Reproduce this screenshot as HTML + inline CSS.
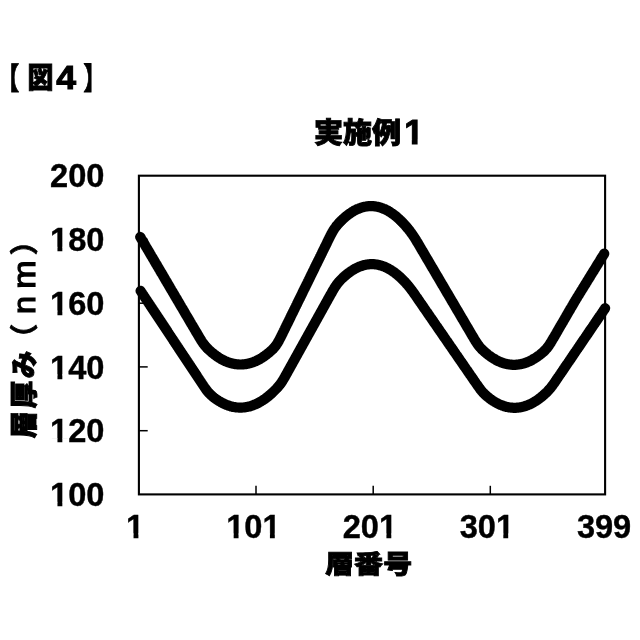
<!DOCTYPE html>
<html lang="ja"><head><meta charset="utf-8"><title>図4</title>
<style>
html,body{margin:0;background:#fff}
.num{font-family:"Liberation Sans",sans-serif;font-weight:700;fill:#000;stroke:#000;stroke-width:0.4px;}
.jp{font-family:"Liberation Sans","Noto Sans CJK JP",sans-serif;font-weight:900;fill:#000;stroke:#000;stroke-width:0.9px;}
.jpl{font-family:"Liberation Sans","Noto Sans CJK JP",sans-serif;font-weight:700;fill:#000;stroke:#000;stroke-width:0.8px;}
.bd{font-family:"Liberation Sans",sans-serif;font-weight:700;fill:#000;stroke:#000;stroke-width:1.0px;}
.lat{font-family:"Liberation Sans",sans-serif;font-weight:400;fill:#000;stroke:#000;stroke-width:1.3px;}
body{width:640px;height:640px;overflow:hidden;}
svg{display:block;}
.ax{stroke:#000;fill:none;}
.cv{fill:none;stroke:#000;stroke-width:10.2;stroke-linecap:round;stroke-linejoin:round;}
</style></head><body>
<svg width="640" height="640" viewBox="0 0 640 640">
<rect width="640" height="640" fill="#fff"/>
<rect class="ax" x="138.9" y="175.7" width="466.2" height="318.7" stroke-width="2.1"/>
<path class="cv" d="M140.2,236.9 L140.8,237.8 L141.2,238.6 L141.8,239.5 L142.2,240.3 L142.8,241.2 L143.2,242.0 L143.8,242.9 L144.2,243.7 L144.8,244.6 L145.2,245.4 L145.8,246.3 L146.2,247.1 L146.8,248.0 L147.2,248.8 L147.8,249.7 L148.2,250.5 L148.8,251.4 L149.2,252.2 L149.8,253.1 L150.2,253.9 L150.8,254.8 L151.2,255.6 L151.8,256.5 L152.2,257.3 L152.8,258.2 L153.2,259.0 L153.8,259.8 L154.2,260.7 L154.8,261.6 L155.2,262.4 L155.8,263.3 L156.2,264.1 L156.8,264.9 L157.2,265.8 L157.8,266.7 L158.2,267.5 L158.8,268.4 L159.2,269.2 L159.8,270.0 L160.2,270.9 L160.8,271.8 L161.2,272.6 L161.8,273.4 L162.2,274.3 L162.8,275.1 L163.2,276.0 L163.8,276.9 L164.2,277.7 L164.8,278.6 L165.2,279.4 L165.8,280.3 L166.2,281.1 L166.8,281.9 L167.2,282.8 L167.8,283.7 L168.2,284.5 L168.8,285.4 L169.2,286.2 L169.8,287.1 L170.2,287.9 L170.8,288.8 L171.2,289.6 L171.8,290.5 L172.2,291.3 L172.8,292.2 L173.2,293.0 L173.8,293.9 L174.2,294.7 L174.8,295.6 L175.2,296.4 L175.8,297.2 L176.2,298.1 L176.8,298.9 L177.2,299.8 L177.8,300.7 L178.2,301.5 L178.8,302.3 L179.2,303.2 L179.8,304.1 L180.2,304.9 L180.8,305.8 L181.2,306.6 L181.8,307.5 L182.2,308.3 L182.8,309.1 L183.2,310.0 L183.8,310.9 L184.2,311.7 L184.8,312.6 L185.2,313.4 L185.8,314.3 L186.2,315.1 L186.8,316.0 L187.2,316.8 L187.8,317.6 L188.2,318.5 L188.8,319.4 L189.2,320.2 L189.8,321.1 L190.2,321.9 L190.8,322.8 L191.2,323.6 L191.8,324.5 L192.2,325.3 L192.8,326.2 L193.2,327.0 L193.8,327.8 L194.2,328.7 L194.8,329.5 L195.2,330.4 L195.8,331.2 L196.2,332.1 L196.8,332.9 L197.2,333.8 L197.8,334.6 L198.2,335.5 L198.8,336.3 L199.2,337.2 L199.8,338.0 L200.2,338.8 L200.8,339.6 L201.2,340.4 L201.8,341.2 L202.2,342.0 L202.8,342.7 L203.2,343.4 L203.8,344.1 L204.2,344.8 L204.8,345.4 L205.2,346.0 L205.8,346.6 L206.2,347.2 L206.8,347.7 L207.2,348.2 L207.8,348.7 L208.2,349.2 L208.8,349.7 L209.2,350.1 L209.8,350.6 L210.2,351.1 L210.8,351.5 L211.2,351.9 L211.8,352.4 L212.2,352.8 L212.8,353.2 L213.2,353.6 L213.8,354.0 L214.2,354.4 L214.8,354.8 L215.2,355.1 L215.8,355.5 L216.2,355.9 L216.8,356.2 L217.2,356.6 L217.8,356.9 L218.2,357.2 L218.8,357.6 L219.2,357.9 L219.8,358.2 L220.2,358.5 L220.8,358.8 L221.2,359.1 L221.8,359.3 L222.2,359.6 L222.8,359.9 L223.2,360.1 L223.8,360.4 L224.2,360.6 L224.8,360.9 L225.2,361.1 L225.8,361.3 L226.2,361.5 L226.8,361.7 L227.2,361.9 L227.8,362.1 L228.2,362.3 L228.8,362.5 L229.2,362.6 L229.8,362.8 L230.2,363.0 L230.8,363.1 L231.2,363.2 L231.8,363.4 L232.2,363.5 L232.8,363.6 L233.2,363.7 L233.8,363.8 L234.2,363.9 L234.8,364.0 L235.2,364.1 L235.8,364.2 L236.2,364.2 L236.8,364.3 L237.2,364.4 L237.8,364.4 L238.2,364.4 L238.8,364.5 L239.2,364.5 L239.8,364.5 L240.2,364.5 L240.8,364.5 L241.2,364.5 L241.8,364.5 L242.2,364.5 L242.8,364.4 L243.2,364.4 L243.8,364.4 L244.2,364.3 L244.8,364.2 L245.2,364.2 L245.8,364.1 L246.2,364.0 L246.8,363.9 L247.2,363.8 L247.8,363.7 L248.2,363.6 L248.8,363.5 L249.2,363.4 L249.8,363.2 L250.2,363.1 L250.8,363.0 L251.2,362.8 L251.8,362.6 L252.2,362.5 L252.8,362.3 L253.2,362.1 L253.8,361.9 L254.2,361.7 L254.8,361.5 L255.2,361.3 L255.8,361.1 L256.2,360.9 L256.8,360.6 L257.2,360.4 L257.8,360.1 L258.2,359.9 L258.8,359.6 L259.2,359.3 L259.8,359.1 L260.2,358.8 L260.8,358.5 L261.2,358.2 L261.8,357.9 L262.2,357.6 L262.8,357.2 L263.2,356.9 L263.8,356.6 L264.2,356.2 L264.8,355.9 L265.2,355.5 L265.8,355.1 L266.2,354.8 L266.8,354.4 L267.2,354.0 L267.8,353.6 L268.2,353.2 L268.8,352.8 L269.2,352.4 L269.8,351.9 L270.2,351.5 L270.8,351.1 L271.2,350.6 L271.8,350.1 L272.2,349.7 L272.8,349.2 L273.2,348.7 L273.8,348.1 L274.2,347.6 L274.8,347.0 L275.2,346.4 L275.8,345.7 L276.2,345.0 L276.8,344.3 L277.2,343.5 L277.8,342.7 L278.2,341.8 L278.8,340.9 L279.2,340.0 L279.8,339.0 L280.2,338.1 L280.8,337.1 L281.2,336.1 L281.8,335.1 L282.2,334.1 L282.8,333.1 L283.2,332.0 L283.8,331.0 L284.2,330.0 L284.8,329.0 L285.2,328.0 L285.8,326.9 L286.2,325.9 L286.8,324.9 L287.2,323.9 L287.8,322.9 L288.2,321.8 L288.8,320.8 L289.2,319.8 L289.8,318.8 L290.2,317.8 L290.8,316.7 L291.2,315.7 L291.8,314.7 L292.2,313.7 L292.8,312.7 L293.2,311.6 L293.8,310.6 L294.2,309.6 L294.8,308.6 L295.2,307.5 L295.8,306.5 L296.2,305.5 L296.8,304.5 L297.2,303.5 L297.8,302.4 L298.2,301.4 L298.8,300.4 L299.2,299.4 L299.8,298.4 L300.2,297.3 L300.8,296.3 L301.2,295.3 L301.8,294.3 L302.2,293.3 L302.8,292.2 L303.2,291.2 L303.8,290.2 L304.2,289.2 L304.8,288.2 L305.2,287.1 L305.8,286.1 L306.2,285.1 L306.8,284.1 L307.2,283.1 L307.8,282.0 L308.2,281.0 L308.8,280.0 L309.2,279.0 L309.8,278.0 L310.2,276.9 L310.8,275.9 L311.2,274.9 L311.8,273.9 L312.2,272.9 L312.8,271.8 L313.2,270.8 L313.8,269.8 L314.2,268.8 L314.8,267.7 L315.2,266.7 L315.8,265.7 L316.2,264.7 L316.8,263.7 L317.2,262.6 L317.8,261.6 L318.2,260.6 L318.8,259.6 L319.2,258.6 L319.8,257.5 L320.2,256.5 L320.8,255.5 L321.2,254.5 L321.8,253.5 L322.2,252.4 L322.8,251.4 L323.2,250.4 L323.8,249.4 L324.2,248.4 L324.8,247.3 L325.2,246.3 L325.8,245.3 L326.2,244.3 L326.8,243.3 L327.2,242.2 L327.8,241.2 L328.2,240.2 L328.8,239.2 L329.2,238.2 L329.8,237.2 L330.2,236.2 L330.8,235.2 L331.2,234.2 L331.8,233.3 L332.2,232.4 L332.8,231.5 L333.2,230.6 L333.8,229.8 L334.2,229.0 L334.8,228.3 L335.2,227.5 L335.8,226.9 L336.2,226.2 L336.8,225.6 L337.2,225.0 L337.8,224.4 L338.2,223.8 L338.8,223.3 L339.2,222.7 L339.8,222.2 L340.2,221.7 L340.8,221.2 L341.2,220.7 L341.8,220.2 L342.2,219.7 L342.8,219.3 L343.2,218.8 L343.8,218.4 L344.2,217.9 L344.8,217.5 L345.2,217.0 L345.8,216.6 L346.2,216.2 L346.8,215.8 L347.2,215.4 L347.8,215.0 L348.2,214.6 L348.8,214.3 L349.2,213.9 L349.8,213.6 L350.2,213.2 L350.8,212.9 L351.2,212.5 L351.8,212.2 L352.2,211.9 L352.8,211.6 L353.2,211.3 L353.8,211.0 L354.2,210.7 L354.8,210.5 L355.2,210.2 L355.8,209.9 L356.2,209.7 L356.8,209.5 L357.2,209.2 L357.8,209.0 L358.2,208.8 L358.8,208.6 L359.2,208.4 L359.8,208.2 L360.2,208.0 L360.8,207.8 L361.2,207.7 L361.8,207.5 L362.2,207.4 L362.8,207.2 L363.2,207.1 L363.8,207.0 L364.2,206.9 L364.8,206.7 L365.2,206.6 L365.8,206.6 L366.2,206.5 L366.8,206.4 L367.2,206.3 L367.8,206.3 L368.2,206.2 L368.8,206.2 L369.2,206.2 L369.8,206.1 L370.2,206.1 L370.8,206.1 L371.2,206.1 L371.8,206.1 L372.2,206.1 L372.8,206.2 L373.2,206.2 L373.8,206.2 L374.2,206.3 L374.8,206.3 L375.2,206.4 L375.8,206.5 L376.2,206.6 L376.8,206.6 L377.2,206.7 L377.8,206.9 L378.2,207.0 L378.8,207.1 L379.2,207.2 L379.8,207.4 L380.2,207.5 L380.8,207.7 L381.2,207.8 L381.8,208.0 L382.2,208.2 L382.8,208.4 L383.2,208.6 L383.8,208.8 L384.2,209.0 L384.8,209.2 L385.2,209.5 L385.8,209.7 L386.2,209.9 L386.8,210.2 L387.2,210.5 L387.8,210.7 L388.2,211.0 L388.8,211.3 L389.2,211.6 L389.8,211.9 L390.2,212.2 L390.8,212.5 L391.2,212.9 L391.8,213.2 L392.2,213.6 L392.8,213.9 L393.2,214.3 L393.8,214.6 L394.2,215.0 L394.8,215.4 L395.2,215.8 L395.8,216.2 L396.2,216.6 L396.8,217.0 L397.2,217.5 L397.8,217.9 L398.2,218.4 L398.8,218.8 L399.2,219.3 L399.8,219.7 L400.2,220.2 L400.8,220.7 L401.2,221.2 L401.8,221.7 L402.2,222.2 L402.8,222.7 L403.2,223.3 L403.8,223.8 L404.2,224.3 L404.8,224.9 L405.2,225.5 L405.8,226.0 L406.2,226.6 L406.8,227.2 L407.2,227.8 L407.8,228.4 L408.2,229.0 L408.8,229.6 L409.2,230.3 L409.8,230.9 L410.2,231.5 L410.8,232.2 L411.2,232.9 L411.8,233.6 L412.2,234.3 L412.8,235.0 L413.2,235.7 L413.8,236.5 L414.2,237.2 L414.8,238.0 L415.2,238.8 L415.8,239.6 L416.2,240.4 L416.8,241.3 L417.2,242.1 L417.8,242.9 L418.2,243.8 L418.8,244.6 L419.2,245.5 L419.8,246.3 L420.2,247.2 L420.8,248.0 L421.2,248.9 L421.8,249.7 L422.2,250.6 L422.8,251.4 L423.2,252.3 L423.8,253.1 L424.2,254.0 L424.8,254.8 L425.2,255.7 L425.8,256.5 L426.2,257.4 L426.8,258.2 L427.2,259.1 L427.8,259.9 L428.2,260.8 L428.8,261.6 L429.2,262.5 L429.8,263.3 L430.2,264.2 L430.8,265.0 L431.2,265.9 L431.8,266.7 L432.2,267.6 L432.8,268.4 L433.2,269.3 L433.8,270.1 L434.2,271.0 L434.8,271.8 L435.2,272.7 L435.8,273.5 L436.2,274.4 L436.8,275.2 L437.2,276.1 L437.8,276.9 L438.2,277.8 L438.8,278.6 L439.2,279.5 L439.8,280.3 L440.2,281.2 L440.8,282.0 L441.2,282.9 L441.8,283.7 L442.2,284.6 L442.8,285.4 L443.2,286.3 L443.8,287.1 L444.2,288.0 L444.8,288.8 L445.2,289.7 L445.8,290.5 L446.2,291.4 L446.8,292.2 L447.2,293.1 L447.8,293.9 L448.2,294.8 L448.8,295.6 L449.2,296.5 L449.8,297.3 L450.2,298.2 L450.8,299.0 L451.2,299.9 L451.8,300.7 L452.2,301.6 L452.8,302.4 L453.2,303.3 L453.8,304.1 L454.2,305.0 L454.8,305.8 L455.2,306.7 L455.8,307.5 L456.2,308.4 L456.8,309.2 L457.2,310.1 L457.8,310.9 L458.2,311.8 L458.8,312.6 L459.2,313.5 L459.8,314.3 L460.2,315.2 L460.8,316.0 L461.2,316.9 L461.8,317.7 L462.2,318.6 L462.8,319.4 L463.2,320.3 L463.8,321.1 L464.2,322.0 L464.8,322.8 L465.2,323.7 L465.8,324.5 L466.2,325.4 L466.8,326.2 L467.2,327.1 L467.8,327.9 L468.2,328.8 L468.8,329.6 L469.2,330.5 L469.8,331.3 L470.2,332.2 L470.8,333.0 L471.2,333.9 L471.8,334.7 L472.2,335.6 L472.8,336.4 L473.2,337.2 L473.8,338.1 L474.2,338.9 L474.8,339.7 L475.2,340.6 L475.8,341.4 L476.2,342.2 L476.8,342.9 L477.2,343.7 L477.8,344.4 L478.2,345.1 L478.8,345.7 L479.2,346.4 L479.8,347.0 L480.2,347.5 L480.8,348.1 L481.2,348.6 L481.8,349.2 L482.2,349.7 L482.8,350.1 L483.2,350.6 L483.8,351.1 L484.2,351.5 L484.8,352.0 L485.2,352.4 L485.8,352.8 L486.2,353.3 L486.8,353.7 L487.2,354.1 L487.8,354.5 L488.2,354.9 L488.8,355.2 L489.2,355.6 L489.8,356.0 L490.2,356.3 L490.8,356.7 L491.2,357.0 L491.8,357.4 L492.2,357.7 L492.8,358.0 L493.2,358.3 L493.8,358.7 L494.2,359.0 L494.8,359.2 L495.2,359.5 L495.8,359.8 L496.2,360.1 L496.8,360.3 L497.2,360.6 L497.8,360.8 L498.2,361.1 L498.8,361.3 L499.2,361.5 L499.8,361.8 L500.2,362.0 L500.8,362.2 L501.2,362.4 L501.8,362.6 L502.2,362.7 L502.8,362.9 L503.2,363.1 L503.8,363.2 L504.2,363.4 L504.8,363.5 L505.2,363.7 L505.8,363.8 L506.2,363.9 L506.8,364.0 L507.2,364.1 L507.8,364.2 L508.2,364.3 L508.8,364.4 L509.2,364.5 L509.8,364.5 L510.2,364.6 L510.8,364.6 L511.2,364.7 L511.8,364.7 L512.2,364.8 L512.8,364.8 L513.2,364.8 L513.8,364.8 L514.2,364.8 L514.8,364.8 L515.2,364.8 L515.8,364.8 L516.2,364.7 L516.8,364.7 L517.2,364.6 L517.8,364.6 L518.2,364.5 L518.8,364.5 L519.2,364.4 L519.8,364.3 L520.2,364.2 L520.8,364.1 L521.2,364.0 L521.8,363.9 L522.2,363.8 L522.8,363.7 L523.2,363.5 L523.8,363.4 L524.2,363.2 L524.8,363.1 L525.2,362.9 L525.8,362.7 L526.2,362.6 L526.8,362.4 L527.2,362.2 L527.8,362.0 L528.2,361.8 L528.8,361.5 L529.2,361.3 L529.8,361.1 L530.2,360.8 L530.8,360.6 L531.2,360.3 L531.8,360.1 L532.2,359.8 L532.8,359.5 L533.2,359.2 L533.8,359.0 L534.2,358.7 L534.8,358.3 L535.2,358.0 L535.8,357.7 L536.2,357.4 L536.8,357.0 L537.2,356.7 L537.8,356.3 L538.2,356.0 L538.8,355.6 L539.2,355.2 L539.8,354.9 L540.2,354.5 L540.8,354.1 L541.2,353.7 L541.8,353.3 L542.2,352.8 L542.8,352.4 L543.2,352.0 L543.8,351.5 L544.2,351.0 L544.8,350.5 L545.2,350.0 L545.8,349.5 L546.2,348.9 L546.8,348.4 L547.2,347.7 L547.8,347.1 L548.2,346.4 L548.8,345.7 L549.2,345.0 L549.8,344.2 L550.2,343.4 L550.8,342.6 L551.2,341.8 L551.8,341.0 L552.2,340.1 L552.8,339.3 L553.2,338.4 L553.8,337.6 L554.2,336.7 L554.8,335.9 L555.2,335.0 L555.8,334.1 L556.2,333.3 L556.8,332.4 L557.2,331.6 L557.8,330.7 L558.2,329.8 L558.8,329.0 L559.2,328.1 L559.8,327.3 L560.2,326.4 L560.8,325.5 L561.2,324.7 L561.8,323.8 L562.2,323.0 L562.8,322.1 L563.2,321.2 L563.8,320.4 L564.2,319.5 L564.8,318.7 L565.2,317.8 L565.8,316.9 L566.2,316.1 L566.8,315.2 L567.2,314.4 L567.8,313.5 L568.2,312.6 L568.8,311.8 L569.2,310.9 L569.8,310.1 L570.2,309.2 L570.8,308.3 L571.2,307.5 L571.8,306.6 L572.2,305.8 L572.8,304.9 L573.2,304.1 L573.8,303.2 L574.2,302.4 L574.8,301.5 L575.2,300.7 L575.8,299.8 L576.2,299.0 L576.8,298.2 L577.2,297.4 L577.8,296.5 L578.2,295.7 L578.8,294.9 L579.2,294.1 L579.8,293.3 L580.2,292.5 L580.8,291.7 L581.2,290.8 L581.8,290.0 L582.2,289.2 L582.8,288.4 L583.2,287.6 L583.8,286.8 L584.2,286.0 L584.8,285.2 L585.2,284.4 L585.8,283.6 L586.2,282.7 L586.8,281.9 L587.2,281.1 L587.8,280.3 L588.2,279.5 L588.8,278.7 L589.2,277.9 L589.8,277.1 L590.2,276.3 L590.8,275.5 L591.2,274.6 L591.8,273.8 L592.2,273.0 L592.8,272.2 L593.2,271.4 L593.8,270.6 L594.2,269.8 L594.8,269.0 L595.2,268.2 L595.8,267.4 L596.2,266.5 L596.8,265.7 L597.2,264.9 L597.8,264.1 L598.2,263.3 L598.8,262.5 L599.2,261.7 L599.8,260.9 L600.2,260.1 L600.8,259.3 L601.2,258.4 L601.8,257.6 L602.2,256.8 L602.8,256.0 L603.2,255.2 L603.8,254.4 L604.2,253.6"/>
<path class="cv" d="M140.6,290.9 L141.1,291.6 L141.6,292.4 L142.1,293.1 L142.6,293.9 L143.1,294.6 L143.6,295.4 L144.1,296.2 L144.6,296.9 L145.1,297.7 L145.6,298.4 L146.1,299.2 L146.6,299.9 L147.1,300.7 L147.6,301.4 L148.1,302.2 L148.6,302.9 L149.1,303.7 L149.6,304.4 L150.1,305.2 L150.6,306.0 L151.1,306.7 L151.6,307.5 L152.1,308.2 L152.6,309.0 L153.1,309.7 L153.6,310.5 L154.1,311.2 L154.6,312.0 L155.1,312.7 L155.6,313.5 L156.1,314.3 L156.6,315.0 L157.1,315.8 L157.6,316.5 L158.1,317.3 L158.6,318.0 L159.1,318.8 L159.6,319.5 L160.1,320.3 L160.6,321.0 L161.1,321.8 L161.6,322.6 L162.1,323.3 L162.6,324.1 L163.1,324.8 L163.6,325.6 L164.1,326.3 L164.6,327.1 L165.1,327.8 L165.6,328.6 L166.1,329.3 L166.6,330.1 L167.1,330.8 L167.6,331.6 L168.1,332.4 L168.6,333.1 L169.1,333.9 L169.6,334.6 L170.1,335.4 L170.6,336.1 L171.1,336.9 L171.6,337.6 L172.1,338.4 L172.6,339.1 L173.1,339.9 L173.6,340.7 L174.1,341.4 L174.6,342.2 L175.1,342.9 L175.6,343.7 L176.1,344.4 L176.6,345.2 L177.1,345.9 L177.6,346.7 L178.1,347.4 L178.6,348.2 L179.1,349.0 L179.6,349.7 L180.1,350.5 L180.6,351.2 L181.1,352.0 L181.6,352.7 L182.1,353.5 L182.6,354.2 L183.1,355.0 L183.6,355.7 L184.1,356.5 L184.6,357.2 L185.1,358.0 L185.6,358.8 L186.1,359.5 L186.6,360.3 L187.1,361.0 L187.6,361.8 L188.1,362.5 L188.6,363.3 L189.1,364.0 L189.6,364.8 L190.1,365.5 L190.6,366.3 L191.1,367.1 L191.6,367.8 L192.1,368.6 L192.6,369.3 L193.1,370.1 L193.6,370.8 L194.1,371.6 L194.6,372.3 L195.1,373.1 L195.6,373.8 L196.1,374.6 L196.6,375.3 L197.1,376.1 L197.6,376.9 L198.1,377.6 L198.6,378.4 L199.1,379.1 L199.6,379.9 L200.1,380.6 L200.6,381.4 L201.1,382.1 L201.6,382.9 L202.1,383.6 L202.6,384.4 L203.1,385.1 L203.6,385.9 L204.1,386.6 L204.6,387.4 L205.1,388.1 L205.6,388.8 L206.1,389.5 L206.6,390.2 L207.1,390.8 L207.6,391.5 L208.1,392.1 L208.6,392.6 L209.1,393.2 L209.6,393.7 L210.1,394.2 L210.6,394.7 L211.1,395.2 L211.6,395.6 L212.1,396.0 L212.6,396.5 L213.1,396.9 L213.6,397.3 L214.1,397.7 L214.6,398.0 L215.1,398.4 L215.6,398.8 L216.1,399.1 L216.6,399.5 L217.1,399.8 L217.6,400.1 L218.1,400.5 L218.6,400.8 L219.1,401.1 L219.6,401.4 L220.1,401.7 L220.6,402.0 L221.1,402.3 L221.6,402.5 L222.1,402.8 L222.6,403.1 L223.1,403.3 L223.6,403.6 L224.1,403.8 L224.6,404.0 L225.1,404.3 L225.6,404.5 L226.1,404.7 L226.6,404.9 L227.1,405.1 L227.6,405.3 L228.1,405.5 L228.6,405.6 L229.1,405.8 L229.6,405.9 L230.1,406.1 L230.6,406.2 L231.1,406.4 L231.6,406.5 L232.1,406.6 L232.6,406.7 L233.1,406.9 L233.6,407.0 L234.1,407.1 L234.6,407.1 L235.1,407.2 L235.6,407.3 L236.1,407.4 L236.6,407.4 L237.1,407.5 L237.6,407.5 L238.1,407.5 L238.6,407.6 L239.1,407.6 L239.6,407.6 L240.1,407.6 L240.6,407.6 L241.1,407.6 L241.6,407.6 L242.1,407.6 L242.6,407.5 L243.1,407.5 L243.6,407.5 L244.1,407.4 L244.6,407.3 L245.1,407.3 L245.6,407.2 L246.1,407.1 L246.6,407.0 L247.1,406.9 L247.6,406.8 L248.1,406.7 L248.6,406.6 L249.1,406.5 L249.6,406.4 L250.1,406.2 L250.6,406.1 L251.1,405.9 L251.6,405.8 L252.1,405.6 L252.6,405.4 L253.1,405.2 L253.6,405.0 L254.1,404.8 L254.6,404.6 L255.1,404.4 L255.6,404.2 L256.1,404.0 L256.6,403.8 L257.1,403.5 L257.6,403.3 L258.1,403.0 L258.6,402.8 L259.1,402.5 L259.6,402.2 L260.1,401.9 L260.6,401.6 L261.1,401.3 L261.6,401.0 L262.1,400.7 L262.6,400.4 L263.1,400.1 L263.6,399.7 L264.1,399.4 L264.6,399.0 L265.1,398.7 L265.6,398.3 L266.1,398.0 L266.6,397.6 L267.1,397.2 L267.6,396.8 L268.1,396.4 L268.6,396.0 L269.1,395.6 L269.6,395.2 L270.1,394.7 L270.6,394.3 L271.1,393.9 L271.6,393.4 L272.1,392.9 L272.6,392.5 L273.1,392.0 L273.6,391.5 L274.1,391.0 L274.6,390.5 L275.1,390.0 L275.6,389.5 L276.1,389.0 L276.6,388.5 L277.1,387.9 L277.6,387.4 L278.1,386.8 L278.6,386.2 L279.1,385.6 L279.6,385.0 L280.1,384.4 L280.6,383.7 L281.1,383.0 L281.6,382.3 L282.1,381.5 L282.6,380.7 L283.1,379.9 L283.6,379.1 L284.1,378.2 L284.6,377.4 L285.1,376.5 L285.6,375.6 L286.1,374.7 L286.6,373.8 L287.1,372.9 L287.6,372.0 L288.1,371.1 L288.6,370.2 L289.1,369.3 L289.6,368.4 L290.1,367.5 L290.6,366.6 L291.1,365.7 L291.6,364.8 L292.1,363.9 L292.6,363.0 L293.1,362.1 L293.6,361.2 L294.1,360.3 L294.6,359.4 L295.1,358.5 L295.6,357.6 L296.1,356.7 L296.6,355.8 L297.1,354.9 L297.6,354.0 L298.1,353.1 L298.6,352.2 L299.1,351.3 L299.6,350.4 L300.1,349.5 L300.6,348.6 L301.1,347.7 L301.6,346.8 L302.1,345.9 L302.6,345.0 L303.1,344.1 L303.6,343.2 L304.1,342.3 L304.6,341.4 L305.1,340.5 L305.6,339.6 L306.1,338.7 L306.6,337.8 L307.1,336.9 L307.6,336.0 L308.1,335.1 L308.6,334.2 L309.1,333.3 L309.6,332.4 L310.1,331.5 L310.6,330.6 L311.1,329.7 L311.6,328.8 L312.1,327.9 L312.6,327.0 L313.1,326.1 L313.6,325.2 L314.1,324.3 L314.6,323.4 L315.1,322.5 L315.6,321.6 L316.1,320.7 L316.6,319.8 L317.1,318.9 L317.6,318.0 L318.1,317.1 L318.6,316.2 L319.1,315.3 L319.6,314.4 L320.1,313.5 L320.6,312.6 L321.1,311.7 L321.6,310.8 L322.1,309.9 L322.6,309.0 L323.1,308.1 L323.6,307.2 L324.1,306.3 L324.6,305.4 L325.1,304.5 L325.6,303.6 L326.1,302.7 L326.6,301.8 L327.1,300.9 L327.6,300.0 L328.1,299.1 L328.6,298.2 L329.1,297.3 L329.6,296.4 L330.1,295.5 L330.6,294.6 L331.1,293.8 L331.6,292.9 L332.1,292.0 L332.6,291.1 L333.1,290.2 L333.6,289.4 L334.1,288.6 L334.6,287.7 L335.1,286.9 L335.6,286.2 L336.1,285.5 L336.6,284.7 L337.1,284.1 L337.6,283.4 L338.1,282.8 L338.6,282.2 L339.1,281.6 L339.6,281.1 L340.1,280.5 L340.6,280.0 L341.1,279.5 L341.6,279.0 L342.1,278.5 L342.6,278.0 L343.1,277.6 L343.6,277.1 L344.1,276.6 L344.6,276.2 L345.1,275.8 L345.6,275.3 L346.1,274.9 L346.6,274.5 L347.1,274.1 L347.6,273.7 L348.1,273.3 L348.6,272.9 L349.1,272.5 L349.6,272.2 L350.1,271.8 L350.6,271.5 L351.1,271.1 L351.6,270.8 L352.1,270.5 L352.6,270.2 L353.1,269.8 L353.6,269.5 L354.1,269.3 L354.6,269.0 L355.1,268.7 L355.6,268.4 L356.1,268.2 L356.6,267.9 L357.1,267.7 L357.6,267.4 L358.1,267.2 L358.6,267.0 L359.1,266.8 L359.6,266.6 L360.1,266.4 L360.6,266.2 L361.1,266.0 L361.6,265.9 L362.1,265.7 L362.6,265.5 L363.1,265.4 L363.6,265.3 L364.1,265.1 L364.6,265.0 L365.1,264.9 L365.6,264.8 L366.1,264.7 L366.6,264.6 L367.1,264.5 L367.6,264.4 L368.1,264.4 L368.6,264.3 L369.1,264.3 L369.6,264.2 L370.1,264.2 L370.6,264.2 L371.1,264.2 L371.6,264.2 L372.1,264.2 L372.6,264.2 L373.1,264.2 L373.6,264.2 L374.1,264.2 L374.6,264.3 L375.1,264.3 L375.6,264.4 L376.1,264.5 L376.6,264.5 L377.1,264.6 L377.6,264.7 L378.1,264.8 L378.6,264.9 L379.1,265.0 L379.6,265.2 L380.1,265.3 L380.6,265.4 L381.1,265.6 L381.6,265.7 L382.1,265.9 L382.6,266.1 L383.1,266.2 L383.6,266.4 L384.1,266.6 L384.6,266.8 L385.1,267.0 L385.6,267.3 L386.1,267.5 L386.6,267.7 L387.1,268.0 L387.6,268.2 L388.1,268.5 L388.6,268.8 L389.1,269.0 L389.6,269.3 L390.1,269.6 L390.6,269.9 L391.1,270.2 L391.6,270.5 L392.1,270.9 L392.6,271.2 L393.1,271.5 L393.6,271.9 L394.1,272.2 L394.6,272.6 L395.1,273.0 L395.6,273.4 L396.1,273.8 L396.6,274.2 L397.1,274.6 L397.6,275.0 L398.1,275.4 L398.6,275.8 L399.1,276.3 L399.6,276.7 L400.1,277.2 L400.6,277.6 L401.1,278.1 L401.6,278.6 L402.1,279.1 L402.6,279.6 L403.1,280.1 L403.6,280.6 L404.1,281.1 L404.6,281.7 L405.1,282.2 L405.6,282.7 L406.1,283.3 L406.6,283.9 L407.1,284.4 L407.6,285.0 L408.1,285.6 L408.6,286.2 L409.1,286.8 L409.6,287.4 L410.1,288.1 L410.6,288.7 L411.1,289.4 L411.6,290.0 L412.1,290.7 L412.6,291.4 L413.1,292.1 L413.6,292.8 L414.1,293.5 L414.6,294.2 L415.1,294.9 L415.6,295.6 L416.1,296.4 L416.6,297.1 L417.1,297.8 L417.6,298.5 L418.1,299.3 L418.6,300.0 L419.1,300.7 L419.6,301.4 L420.1,302.2 L420.6,302.9 L421.1,303.6 L421.6,304.3 L422.1,305.1 L422.6,305.8 L423.1,306.5 L423.6,307.2 L424.1,308.0 L424.6,308.7 L425.1,309.4 L425.6,310.1 L426.1,310.9 L426.6,311.6 L427.1,312.3 L427.6,313.0 L428.1,313.8 L428.6,314.5 L429.1,315.2 L429.6,315.9 L430.1,316.7 L430.6,317.4 L431.1,318.1 L431.6,318.8 L432.1,319.6 L432.6,320.3 L433.1,321.0 L433.6,321.7 L434.1,322.5 L434.6,323.2 L435.1,323.9 L435.6,324.6 L436.1,325.4 L436.6,326.1 L437.1,326.8 L437.6,327.5 L438.1,328.3 L438.6,329.0 L439.1,329.7 L439.6,330.4 L440.1,331.2 L440.6,331.9 L441.1,332.6 L441.6,333.3 L442.1,334.1 L442.6,334.8 L443.1,335.5 L443.6,336.2 L444.1,337.0 L444.6,337.7 L445.1,338.4 L445.6,339.1 L446.1,339.9 L446.6,340.6 L447.1,341.3 L447.6,342.0 L448.1,342.8 L448.6,343.5 L449.1,344.2 L449.6,344.9 L450.1,345.7 L450.6,346.4 L451.1,347.1 L451.6,347.8 L452.1,348.6 L452.6,349.3 L453.1,350.0 L453.6,350.7 L454.1,351.5 L454.6,352.2 L455.1,352.9 L455.6,353.6 L456.1,354.4 L456.6,355.1 L457.1,355.8 L457.6,356.5 L458.1,357.3 L458.6,358.0 L459.1,358.7 L459.6,359.4 L460.1,360.2 L460.6,360.9 L461.1,361.6 L461.6,362.3 L462.1,363.1 L462.6,363.8 L463.1,364.5 L463.6,365.2 L464.1,366.0 L464.6,366.7 L465.1,367.4 L465.6,368.1 L466.1,368.9 L466.6,369.6 L467.1,370.3 L467.6,371.0 L468.1,371.8 L468.6,372.5 L469.1,373.2 L469.6,373.9 L470.1,374.7 L470.6,375.4 L471.1,376.1 L471.6,376.8 L472.1,377.6 L472.6,378.3 L473.1,379.0 L473.6,379.7 L474.1,380.5 L474.6,381.2 L475.1,381.9 L475.6,382.6 L476.1,383.4 L476.6,384.1 L477.1,384.8 L477.6,385.5 L478.1,386.2 L478.6,386.9 L479.1,387.6 L479.6,388.3 L480.1,389.0 L480.6,389.7 L481.1,390.3 L481.6,390.9 L482.1,391.5 L482.6,392.1 L483.1,392.6 L483.6,393.2 L484.1,393.7 L484.6,394.2 L485.1,394.7 L485.6,395.1 L486.1,395.6 L486.6,396.0 L487.1,396.4 L487.6,396.8 L488.1,397.2 L488.6,397.6 L489.1,398.0 L489.6,398.4 L490.1,398.8 L490.6,399.1 L491.1,399.5 L491.6,399.9 L492.1,400.2 L492.6,400.5 L493.1,400.9 L493.6,401.2 L494.1,401.5 L494.6,401.8 L495.1,402.1 L495.6,402.4 L496.1,402.7 L496.6,402.9 L497.1,403.2 L497.6,403.5 L498.1,403.7 L498.6,404.0 L499.1,404.2 L499.6,404.4 L500.1,404.7 L500.6,404.9 L501.1,405.1 L501.6,405.3 L502.1,405.5 L502.6,405.6 L503.1,405.8 L503.6,406.0 L504.1,406.2 L504.6,406.3 L505.1,406.5 L505.6,406.6 L506.1,406.7 L506.6,406.9 L507.1,407.0 L507.6,407.1 L508.1,407.2 L508.6,407.3 L509.1,407.4 L509.6,407.4 L510.1,407.5 L510.6,407.6 L511.1,407.6 L511.6,407.7 L512.1,407.7 L512.6,407.7 L513.1,407.8 L513.6,407.8 L514.1,407.8 L514.6,407.8 L515.1,407.8 L515.6,407.8 L516.1,407.8 L516.6,407.7 L517.1,407.7 L517.6,407.7 L518.1,407.6 L518.6,407.6 L519.1,407.5 L519.6,407.4 L520.1,407.3 L520.6,407.3 L521.1,407.2 L521.6,407.1 L522.1,406.9 L522.6,406.8 L523.1,406.7 L523.6,406.6 L524.1,406.4 L524.6,406.3 L525.1,406.1 L525.6,406.0 L526.1,405.8 L526.6,405.6 L527.1,405.4 L527.6,405.2 L528.1,405.0 L528.6,404.8 L529.1,404.6 L529.6,404.4 L530.1,404.2 L530.6,403.9 L531.1,403.7 L531.6,403.4 L532.1,403.2 L532.6,402.9 L533.1,402.6 L533.6,402.3 L534.1,402.0 L534.6,401.7 L535.1,401.4 L535.6,401.1 L536.1,400.8 L536.6,400.5 L537.1,400.1 L537.6,399.8 L538.1,399.4 L538.6,399.1 L539.1,398.7 L539.6,398.3 L540.1,397.9 L540.6,397.6 L541.1,397.2 L541.6,396.8 L542.1,396.3 L542.6,395.9 L543.1,395.5 L543.6,395.1 L544.1,394.6 L544.6,394.2 L545.1,393.7 L545.6,393.2 L546.1,392.8 L546.6,392.3 L547.1,391.8 L547.6,391.3 L548.1,390.7 L548.6,390.2 L549.1,389.7 L549.6,389.1 L550.1,388.5 L550.6,387.9 L551.1,387.3 L551.6,386.6 L552.1,386.0 L552.6,385.3 L553.1,384.6 L553.6,383.9 L554.1,383.2 L554.6,382.5 L555.1,381.7 L555.6,381.0 L556.1,380.3 L556.6,379.5 L557.1,378.8 L557.6,378.1 L558.1,377.3 L558.6,376.6 L559.1,375.9 L559.6,375.1 L560.1,374.4 L560.6,373.7 L561.1,372.9 L561.6,372.2 L562.1,371.5 L562.6,370.7 L563.1,370.0 L563.6,369.2 L564.1,368.5 L564.6,367.8 L565.1,367.0 L565.6,366.3 L566.1,365.6 L566.6,364.8 L567.1,364.1 L567.6,363.4 L568.1,362.6 L568.6,361.9 L569.1,361.2 L569.6,360.4 L570.1,359.7 L570.6,359.0 L571.1,358.2 L571.6,357.5 L572.1,356.8 L572.6,356.0 L573.1,355.3 L573.6,354.5 L574.1,353.8 L574.6,353.1 L575.1,352.3 L575.6,351.6 L576.1,350.9 L576.6,350.1 L577.1,349.4 L577.6,348.7 L578.1,347.9 L578.6,347.2 L579.1,346.5 L579.6,345.7 L580.1,345.0 L580.6,344.3 L581.1,343.5 L581.6,342.8 L582.1,342.1 L582.6,341.3 L583.1,340.6 L583.6,339.8 L584.1,339.1 L584.6,338.4 L585.1,337.6 L585.6,336.9 L586.1,336.2 L586.6,335.4 L587.1,334.7 L587.6,334.0 L588.1,333.2 L588.6,332.5 L589.1,331.8 L589.6,331.0 L590.1,330.3 L590.6,329.6 L591.1,328.8 L591.6,328.1 L592.1,327.4 L592.6,326.6 L593.1,325.9 L593.6,325.1 L594.1,324.4 L594.6,323.7 L595.1,322.9 L595.6,322.2 L596.1,321.5 L596.6,320.7 L597.1,320.0 L597.6,319.3 L598.1,318.5 L598.6,317.8 L599.1,317.1 L599.6,316.3 L600.1,315.6 L600.6,314.9 L601.1,314.1 L601.6,313.4 L602.1,312.7 L602.6,311.9 L603.1,311.2 L603.6,310.4 L604.1,309.7 L604.6,309.0 L605.1,308.2"/>
<line class="ax" x1="138.9" x2="147.70000000000002" y1="430.7" y2="430.7" stroke-width="1.5"/>
<line class="ax" x1="138.9" x2="147.70000000000002" y1="366.9" y2="366.9" stroke-width="1.5"/>
<line class="ax" x1="138.9" x2="147.70000000000002" y1="303.2" y2="303.2" stroke-width="1.5"/>
<line class="ax" x1="138.9" x2="147.70000000000002" y1="239.4" y2="239.4" stroke-width="1.5"/>
<line class="ax" x1="256.0" x2="256.0" y1="494.4" y2="485.8" stroke-width="1.5"/>
<line class="ax" x1="373.2" x2="373.2" y1="494.4" y2="485.8" stroke-width="1.5"/>
<line class="ax" x1="490.3" x2="490.3" y1="494.4" y2="485.8" stroke-width="1.5"/>
<g transform="translate(-2.96,89.26) scale(0.738,0.998)"><text class="jp" font-size="30" >【</text></g>
<g transform="translate(27.51,87.56) scale(0.927,1.013)"><text class="jp" font-size="28" >図</text></g>
<g transform="translate(56.25,88.50) scale(1.080,1.002)"><text class="bd" font-size="33" >4</text></g>
<g transform="translate(83.41,89.26) scale(0.743,0.998)"><text class="jp" font-size="30" >】</text></g>
<g transform="translate(313.95,143.27) scale(1.003,0.993)"><text class="jp" font-size="29" >実施例</text></g>
<g transform="translate(404.21,144.49) scale(1.022,1.010)"><text class="bd" font-size="34" >1</text><rect x="0.64" y="-4.67" width="6.79" height="7.47" fill="#fff"/><rect x="13.10" y="-4.67" width="6.36" height="7.47" fill="#fff"/></g>
<g transform="translate(325.00,573.30) scale(1.039,0.909)"><text class="jp" font-size="28" >層番号</text></g>
<g transform="translate(34.31,438.40) rotate(-90) scale(0.985,0.981)"><text class="jp" font-size="28" letter-spacing="2.5">層厚み</text></g>
<g transform="translate(35.22,352.36) rotate(-90) scale(0.979,0.977)"><text class="jpl" font-size="29" >（</text></g>
<g transform="translate(35.13,313.98) rotate(-90) scale(0.984,0.937)"><text class="lat" font-size="33" >n</text></g>
<g transform="translate(35.13,288.75) rotate(-90) scale(1.033,0.937)"><text class="lat" font-size="33" >m</text></g>
<g transform="translate(35.22,255.14) rotate(-90) scale(0.989,0.977)"><text class="jpl" font-size="29" >）</text></g>
<g transform="translate(50.05,506.05)"><text class="num" font-size="32.6">100</text><rect x="0.85" y="-4.23" width="6.56" height="6.73" fill="#fff"/><rect x="12.28" y="-4.23" width="6.14" height="6.73" fill="#fff"/></g>
<g transform="translate(50.05,442.31)"><text class="num" font-size="32.6">120</text><rect x="0.85" y="-4.23" width="6.56" height="6.73" fill="#fff"/><rect x="12.28" y="-4.23" width="6.14" height="6.73" fill="#fff"/></g>
<g transform="translate(50.05,378.57)"><text class="num" font-size="32.6">140</text><rect x="0.85" y="-4.23" width="6.56" height="6.73" fill="#fff"/><rect x="12.28" y="-4.23" width="6.14" height="6.73" fill="#fff"/></g>
<g transform="translate(50.05,314.83)"><text class="num" font-size="32.6">160</text><rect x="0.85" y="-4.23" width="6.56" height="6.73" fill="#fff"/><rect x="12.28" y="-4.23" width="6.14" height="6.73" fill="#fff"/></g>
<g transform="translate(50.05,251.09)"><text class="num" font-size="32.6">180</text><rect x="0.85" y="-4.23" width="6.56" height="6.73" fill="#fff"/><rect x="12.28" y="-4.23" width="6.14" height="6.73" fill="#fff"/></g>
<g transform="translate(50.05,187.35)"><text class="num" font-size="32.6">200</text></g>
<g transform="translate(126.12,537.62)"><text class="num" font-size="32.6">1</text><rect x="0.85" y="-4.23" width="6.56" height="6.73" fill="#fff"/><rect x="12.28" y="-4.23" width="6.14" height="6.73" fill="#fff"/></g>
<g transform="translate(226.25,537.75)"><text class="num" font-size="32.6">101</text><rect x="0.85" y="-4.23" width="6.56" height="6.73" fill="#fff"/><rect x="12.28" y="-4.23" width="6.14" height="6.73" fill="#fff"/><rect x="37.11" y="-4.23" width="6.56" height="6.73" fill="#fff"/><rect x="48.54" y="-4.23" width="6.14" height="6.73" fill="#fff"/></g>
<g transform="translate(342.75,537.75)"><text class="num" font-size="32.6">201</text><rect x="37.11" y="-4.23" width="6.56" height="6.73" fill="#fff"/><rect x="48.54" y="-4.23" width="6.14" height="6.73" fill="#fff"/></g>
<g transform="translate(459.65,537.75)"><text class="num" font-size="32.6">301</text><rect x="37.11" y="-4.23" width="6.56" height="6.73" fill="#fff"/><rect x="48.54" y="-4.23" width="6.14" height="6.73" fill="#fff"/></g>
<g transform="translate(576.88,537.75)"><text class="num" font-size="32.6">399</text></g>
</svg></body></html>
